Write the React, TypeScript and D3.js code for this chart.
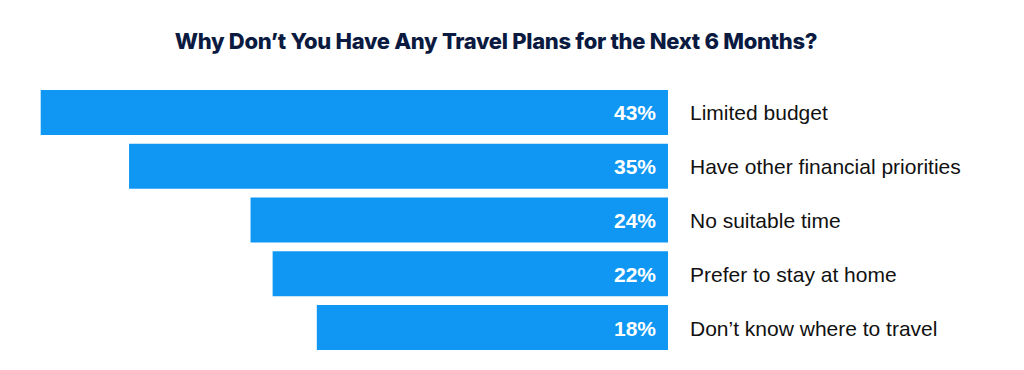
import { useEffect, useRef } from "react";
import * as d3 from "d3";

const categories = [
  "Limited budget",
  "Have other financial priorities",
  "No suitable time",
  "Prefer to stay at home",
  "Don’t know where to travel",
];
const values = [43, 35, 24, 22, 18];
const title = "Why Don’t You Have Any Travel Plans for the Next 6 Months?";

export default function App() {
  const chartRef = useRef<SVGSVGElement | null>(null);

  useEffect(() => {
    const width = 1024;
    const height = 370;
    const barEnd = 668;

    const svg = d3.select(chartRef.current);
    svg.selectAll("*").remove();
    svg.attr("width", width).attr("height", height);

    // bars grow leftwards from a common right edge
    const xScale = d3.scaleLinear().domain([0, 43]).range([515.6, 40.7]);
    const yScale = d3
      .scaleBand<string>()
      .domain(categories)
      .range([90, 350])
      .paddingInner(0.163)
      .paddingOuter(0);

    svg
      .append("text")
      .attr("x", 496)
      .attr("y", 48.5)
      .attr("text-anchor", "middle")
      .attr("font-family", "Inter, 'Noto Sans', sans-serif")
      .attr("font-weight", 800)
      .attr("font-size", 22)
      .attr("letter-spacing", -0.3)
      .attr("fill", "#0b1a40")
      .text(title);

    const rows = svg
      .selectAll("g.row")
      .data(values)
      .enter()
      .append("g")
      .attr("class", "row");

    rows
      .append("rect")
      .attr("x", (d) => xScale(d))
      .attr("y", (d, i) => yScale(categories[i])!)
      .attr("width", (d) => barEnd - xScale(d))
      .attr("height", yScale.bandwidth())
      .attr("fill", "#0f97f3");

    rows
      .append("text")
      .attr("x", 656)
      .attr("y", (d, i) => yScale(categories[i])! + yScale.bandwidth() / 2 + 8)
      .attr("text-anchor", "end")
      .attr("font-family", "'Liberation Sans', Arial, sans-serif")
      .attr("font-weight", 700)
      .attr("font-size", 21)
      .attr("fill", "#ffffff")
      .text((d) => `${d}%`);

    rows
      .append("text")
      .attr("x", 690)
      .attr("y", (d, i) => yScale(categories[i])! + yScale.bandwidth() / 2 + 8)
      .attr("font-family", "'Liberation Sans', Arial, sans-serif")
      .attr("font-size", 21)
      .attr("fill", "#111111")
      .text((d, i) => categories[i]);
  }, []);

  return (
    <svg
      ref={chartRef}
      style={{ position: "absolute", left: 0, top: 0, background: "#ffffff" }}
    />
  );
}
